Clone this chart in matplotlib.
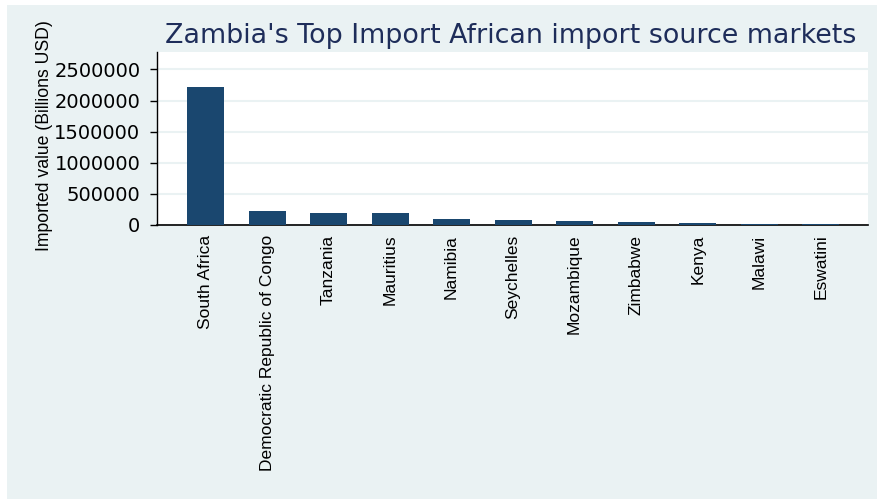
import matplotlib.pyplot as plt
from matplotlib.patches import Rectangle

# data
countries = ["South Africa", "Democratic Republic of Congo", "Tanzania", "Mauritius",
             "Namibia", "Seychelles", "Mozambique", "Zimbabwe", "Kenya", "Malawi", "Eswatini"]
values = [2225000, 226000, 194000, 187000, 92000, 86000, 70000, 46000, 26000, 11000, 10000]
yticks = [0, 500000, 1000000, 1500000, 2000000, 2500000]

bg = "#EAF2F3"
bar_col = "#1A476F"
title_col = "#1E2D5A"
narrow = ["Liberation Sans Narrow", "Liberation Sans", "DejaVu Sans"]

fig = plt.figure(figsize=(8.78, 4.99), dpi=100)
fig.patch.set_facecolor("white")
fig.patches.append(Rectangle((7 / 878, 0), 1 - 7 / 878, 1 - 5 / 499,
                             transform=fig.transFigure, facecolor=bg, edgecolor="none", zorder=-10))

ax = fig.add_axes([157 / 878, 1 - 225 / 499, (868 - 157) / 878, (225 - 52) / 499])
ax.set_zorder(1)
ax.set_facecolor("white")

x = range(len(countries))
ax.bar(x, values, width=0.6, color=bar_col, zorder=3)

ax.set_xlim(-0.79, len(countries) - 0.23)
ax.set_ylim(0, 2780000)
ax.set_yticks(yticks)
ax.set_yticklabels([str(v) for v in yticks], fontsize=14, family="DejaVu Sans")
ax.set_xticks(list(x))
ax.set_xticklabels(countries, rotation=90, fontsize=12.5, family=narrow)
ax.tick_params(axis="x", length=0, pad=7)
ax.tick_params(axis="y", length=5, width=1, pad=7)
ax.grid(axis="y", color=bg, linewidth=1.5, zorder=0)

for s in ["top", "right"]:
    ax.spines[s].set_visible(False)
ax.spines["left"].set_linewidth(1)
ax.spines["bottom"].set_linewidth(1.2)

fig.text(45 / 878, 1 - 136 / 499, "Imported value (Billions USD)", rotation=90,
         ha="center", va="center", fontsize=12.7, family=narrow)
fig.text(511 / 878, 1 - 36 / 499, "Zambia's Top Import African import source markets",
         ha="center", va="center", fontsize=19.4, color=title_col, family="DejaVu Sans")

fig.savefig("out.png", dpi=100, facecolor=fig.get_facecolor())
